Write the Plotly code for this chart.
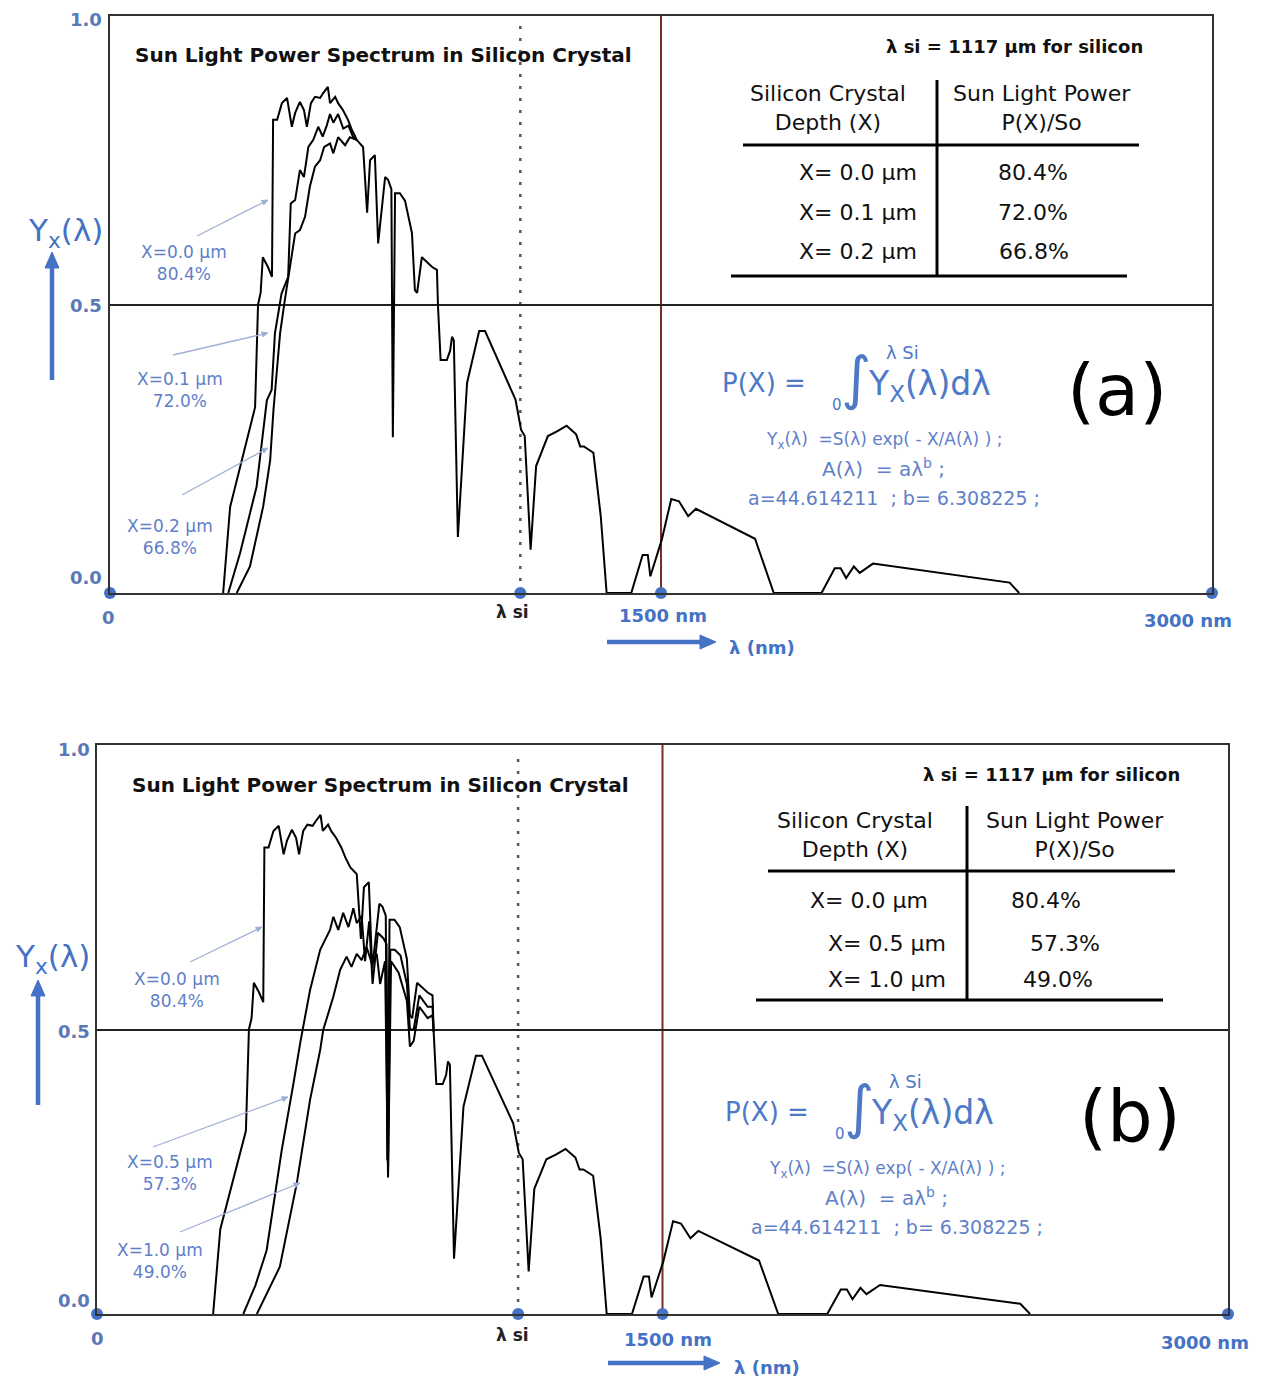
import math
import plotly.graph_objects as go

W, H = 1261, 1378
OFF = 8  # page body margin of the browser
LAMBDA_SI = 1117

# ---- Data ----
# Sun light spectrum at depth X = 0 (nm, relative power)
s_nm = [308, 327, 395, 403, 410, 416, 430, 441, 444, 455, 468, 482, 495, 504, 517, 528, 536, 547,
        558, 572, 580, 593, 599, 613, 621, 634, 648, 659, 672, 689, 700, 708, 721, 730, 749, 757,
        766, 770, 776, 789, 803, 822, 830, 836, 849, 858, 877, 890, 893, 900, 917, 926, 931, 936,
        947, 972, 1005, 1021, 1104, 1119, 1129, 1145, 1160, 1192, 1217, 1243, 1269, 1280, 1290,
        1316, 1336, 1352, 1419, 1450, 1464, 1471, 1502, 1528, 1549, 1574, 1595, 1756, 1807, 1937,
        1973, 1989, 2004, 2025, 2041, 2077, 2449, 2475]
s_y = [0.0, 0.149, 0.322, 0.50, 0.52, 0.582, 0.565, 0.548, 0.82, 0.82, 0.849, 0.858, 0.808, 0.832,
       0.851, 0.837, 0.808, 0.849, 0.86, 0.858, 0.866, 0.877, 0.849, 0.86, 0.849, 0.837, 0.82, 0.802,
       0.785, 0.773, 0.659, 0.75, 0.759, 0.606, 0.721, 0.716, 0.70, 0.27, 0.693, 0.693, 0.68, 0.624,
       0.525, 0.52, 0.582, 0.577, 0.565, 0.56, 0.496, 0.404, 0.404, 0.42, 0.444, 0.438, 0.097, 0.364,
       0.454, 0.454, 0.335, 0.283, 0.272, 0.075, 0.22, 0.272, 0.28, 0.29, 0.275, 0.254, 0.254, 0.243,
       0.133, 0.0, 0.0, 0.066, 0.066, 0.029, 0.092, 0.163, 0.159, 0.133, 0.146, 0.094, 0.0, 0.0,
       0.043, 0.043, 0.026, 0.046, 0.035, 0.051, 0.018, 0.0]

# Panel (a): X = 0.1 um and X = 0.2 um (until they merge with X = 0)
x01_nm = [322, 354, 399, 427, 440, 449, 467, 485, 492, 504, 517, 528, 540, 553, 567, 579, 590, 599,
          608, 621, 635, 649, 662, 672]
x01_y = [0.0, 0.069, 0.184, 0.334, 0.352, 0.45, 0.519, 0.548, 0.675, 0.681, 0.733, 0.721, 0.773,
         0.785, 0.808, 0.791, 0.81, 0.83, 0.815, 0.83, 0.805, 0.81, 0.79, 0.785]
x02_nm = [345, 381, 417, 436, 445, 463, 476, 490, 504, 517, 531, 544, 558, 572, 583, 599, 608, 621,
          640, 653, 672]
x02_y = [0.0, 0.046, 0.15, 0.23, 0.317, 0.45, 0.508, 0.566, 0.623, 0.629, 0.652, 0.704, 0.739, 0.75,
         0.773, 0.779, 0.762, 0.79, 0.776, 0.79, 0.785]

# Panel (b): X = 0.5 um and X = 1.0 um
x05_nm = [388, 420, 450, 490, 521, 540, 565, 592, 618, 627, 640, 653, 667, 680, 689, 702, 711, 722,
          731, 745, 760, 768, 772, 778, 790, 805, 822, 830, 840, 855, 877, 890, 893]
x05_y = [0.0, 0.05, 0.112, 0.288, 0.405, 0.48, 0.569, 0.64, 0.675, 0.698, 0.675, 0.705, 0.68, 0.713,
         0.687, 0.70, 0.62, 0.69, 0.58, 0.67, 0.66, 0.65, 0.25, 0.64, 0.64, 0.63, 0.58, 0.50, 0.50,
         0.56, 0.54, 0.54, 0.496]
x10_nm = [424, 485, 530, 565, 592, 600, 627, 645, 662, 675, 689, 702, 715, 729, 742, 751, 764, 772,
          780, 800, 822, 830, 840, 855, 877, 890, 893]
x10_y = [0.0, 0.083, 0.23, 0.376, 0.464, 0.499, 0.558, 0.605, 0.628, 0.61, 0.633, 0.622, 0.645, 0.616,
         0.633, 0.58, 0.62, 0.24, 0.62, 0.60, 0.55, 0.47, 0.48, 0.54, 0.52, 0.525, 0.496]

marker_x = [0, LAMBDA_SI, 1500, 3000]
marker_y = [0, 0, 0, 0]

depths_a = ["0.0", "0.1", "0.2"]
powers_a = ["80.4%", "72.0%", "66.8%"]
depths_b = ["0.0", "0.5", "1.0"]
powers_b = ["80.4%", "57.3%", "49.0%"]

a_coef = "44.614211"
b_coef = "6.308225"

# ---- Styling ----
BLUE = "#4472C4"
FBLUE = "#4d79c6"
LBLUE = "#5f80c8"
TBLUE = "#5a78b8"
FONT = "DejaVu Sans, Noto Sans"
NB = "\u00a0"


def PX(px):
    return (px - OFF) / W


def PY(py):
    return 1 - (py - OFF) / H


fig = go.Figure()

line_style = dict(color="black", width=2)
fig.add_trace(go.Scatter(x=s_nm, y=s_y, mode="lines", line=line_style, xaxis="x", yaxis="y"))
fig.add_trace(go.Scatter(x=x01_nm, y=x01_y, mode="lines", line=line_style, xaxis="x", yaxis="y"))
fig.add_trace(go.Scatter(x=x02_nm, y=x02_y, mode="lines", line=line_style, xaxis="x", yaxis="y"))
fig.add_trace(go.Scatter(x=s_nm, y=s_y, mode="lines", line=line_style, xaxis="x2", yaxis="y2"))
fig.add_trace(go.Scatter(x=x05_nm, y=x05_y, mode="lines", line=line_style, xaxis="x2", yaxis="y2"))
fig.add_trace(go.Scatter(x=x10_nm, y=x10_y, mode="lines", line=line_style, xaxis="x2", yaxis="y2"))
for xa, ya in (("x", "y"), ("x2", "y2")):
    fig.add_trace(go.Scatter(x=marker_x, y=marker_y, mode="markers", cliponaxis=False,
                             marker=dict(color=BLUE, size=12), xaxis=xa, yaxis=ya))

ax_common = dict(range=[0, 3000], showgrid=False, zeroline=False, showticklabels=False,
                 showline=True, mirror=True, linecolor="#333", linewidth=2, ticks="")
ay_common = dict(range=[0, 1], tickvals=[0.5], showgrid=True, gridcolor="#222", gridwidth=1.8,
                 zeroline=False, showticklabels=False, showline=True, mirror=True,
                 linecolor="#333", linewidth=2, ticks="")

fig.update_layout(
    width=W, height=H, margin=dict(l=0, r=0, t=0, b=0),
    paper_bgcolor="white", plot_bgcolor="white", showlegend=False,
    xaxis=dict(domain=[PX(110), PX(1212)], anchor="y", **ax_common),
    yaxis=dict(domain=[PY(593), PY(16)], anchor="x", **ay_common),
    xaxis2=dict(domain=[PX(97), PX(1228)], anchor="y2", **ax_common),
    yaxis2=dict(domain=[PY(1314), PY(745)], anchor="x2", **ay_common),
)

shapes = []
for xa, ya in (("x", "y"), ("x2", "y2")):
    shapes.append(dict(type="line", xref=xa, yref=ya, x0=1500, x1=1500, y0=0, y1=1,
                       line=dict(color="#7b2d26", width=2), layer="below"))
    shapes.append(dict(type="line", xref=xa, yref=ya, x0=LAMBDA_SI, x1=LAMBDA_SI, y0=0, y1=0.99,
                       line=dict(color="#555", width=2.5, dash="3px,9px"), layer="below"))

annotations = []


def txt(px, py, text, size, color="black", bold=False, xanchor="center", family=FONT):
    if bold:
        text = "<b>" + text + "</b>"
    annotations.append(dict(xref="paper", yref="paper", x=PX(px), y=PY(py), text=text,
                            showarrow=False, xanchor=xanchor, yanchor="middle",
                            font=dict(size=size, color=color, family=family)))


def arrow(tx, ty, hx, hy, color, width, hl, hw):
    d = math.hypot(hx - tx, hy - ty)
    ux, uy = (hx - tx) / d, (hy - ty) / d
    bx, by = hx - ux * hl, hy - uy * hl
    shapes.append(dict(type="line", xref="paper", yref="paper", x0=PX(tx), y0=PY(ty),
                       x1=PX(bx), y1=PY(by), line=dict(color=color, width=width)))
    px_, py_ = -uy, ux
    p1 = (bx + px_ * hw / 2, by + py_ * hw / 2)
    p2 = (bx - px_ * hw / 2, by - py_ * hw / 2)
    path = "M {:.5f},{:.5f} L {:.5f},{:.5f} L {:.5f},{:.5f} Z".format(
        PX(hx), PY(hy), PX(p1[0]), PY(p1[1]), PX(p2[0]), PY(p2[1]))
    shapes.append(dict(type="path", xref="paper", yref="paper", path=path,
                       fillcolor=color, line=dict(color=color, width=1)))


def hline(x0, x1, y):
    shapes.append(dict(type="line", xref="paper", yref="paper", x0=PX(x0), x1=PX(x1),
                       y0=PY(y), y1=PY(y), line=dict(color="black", width=3)))


def vline(x, y0, y1):
    shapes.append(dict(type="line", xref="paper", yref="paper", x0=PX(x), x1=PX(x),
                       y0=PY(y0), y1=PY(y1), line=dict(color="black", width=3)))


panels = [
    dict(ticks=[(86, 19, "1.0"), (86, 305, "0.5"), (86, 578, "0.0")],
         zero=(108, 617), lsi=(512, 612), n1500=(663, 616), n3000=(1188, 620),
         larrow=(607, 716, 642), lnm=(762, 647), yl=(65, 232), yarrow=(52, 380, 252),
         title=(383, 55), tag="(a)", tagpos=(1117, 390), fdx=0, fdy=0,
         depths=depths_a, powers=powers_a,
         labels=[(184, 263, (197, 236, 268, 200)), (180, 390, (173, 355, 268, 333)),
                 (170, 537, (182, 495, 268, 448))],
         tbl=dict(lsi=(1145, 47), h1=(828, 108), h2=(1042, 108), v=(937, 80, 276),
                  top=(743, 1139, 145), bot=(731, 1127, 276),
                  rows=[(919, 172, 1033), (919, 212, 1033), (919, 251, 1034)])),
    dict(ticks=[(74, 749, "1.0"), (74, 1031, "0.5"), (74, 1300, "0.0")],
         zero=(97, 1338), lsi=(512, 1335), n1500=(668, 1339), n3000=(1205, 1342),
         larrow=(608, 720, 1363), lnm=(767, 1367), yl=(52, 958), yarrow=(38, 1105, 980),
         title=(380, 785), tag="(b)", tagpos=(1130, 1116), fdx=3, fdy=729,
         depths=depths_b, powers=powers_b,
         labels=[(177, 990, (190, 962, 262, 927)), (170, 1173, (153, 1147, 288, 1097)),
                 (160, 1261, (180, 1232, 300, 1183))],
         tbl=dict(lsi=(1182, 774), h1=(855, 835), h2=(1075, 835), v=(967, 806, 1000),
                  top=(768, 1175, 871), bot=(756, 1163, 1000),
                  rows=[(930, 900, 1046), (948, 943, 1065), (948, 979, 1058)])),
]

for p in panels:
    for (x, y, t) in p["ticks"]:
        txt(x, y, t, 18, TBLUE, bold=True)
    txt(*p["zero"], "0", 18, TBLUE, bold=True)
    txt(*p["lsi"], "λ si", 17, "#222", bold=True)
    txt(*p["n1500"], "1500 nm", 18, BLUE, bold=True)
    txt(*p["n3000"], "3000 nm", 18, BLUE, bold=True)
    x0, x1, yy = p["larrow"]
    arrow(x0, yy, x1, yy, BLUE, 4.5, 16, 14)
    txt(*p["lnm"], "λ (nm)", 18, BLUE, bold=True)
    txt(*p["yl"], "Y<sub>x</sub>(λ)", 31, BLUE)
    ax_, t_, h_ = p["yarrow"]
    arrow(ax_, t_, ax_, h_, BLUE, 4.5, 16, 14)
    txt(*p["title"], "Sun Light Power Spectrum in Silicon Crystal", 20, "#111", bold=True)
    txt(*p["tagpos"], p["tag"], 72, "black")

    # depth labels with pointer lines
    for (lx, ly, (tx, ty, hx, hy)), d, pw in zip(p["labels"], p["depths"], p["powers"]):
        txt(lx, ly, "X=" + d + " μm<br>" + pw, 17, LBLUE)
        arrow(tx, ty, hx, hy, "#9fb0d6", 1.3, 6, 5)

    # table
    tb = p["tbl"]
    txt(tb["lsi"][0], tb["lsi"][1], "λ si = 1117 μm for silicon", 18, "#111", bold=True,
        xanchor="right")
    txt(*tb["h1"], "Silicon Crystal<br>Depth (X)", 22, "#111")
    txt(*tb["h2"], "Sun Light Power<br>P(X)/So", 22, "#111")
    vline(*tb["v"])
    hline(*tb["top"])
    hline(*tb["bot"])
    for (rx, ry, vx), d, pw in zip(tb["rows"], p["depths"], p["powers"]):
        txt(rx, ry, "X= " + d + " μm", 22, "#111", xanchor="right")
        txt(vx, ry, pw, 22, "#111")

    # formula
    dx, dy = p["fdx"], p["fdy"]
    txt(808 + dx, 383 + dy, "P(X) =", 26, FBLUE, xanchor="right")
    txt(837 + dx, 405 + dy, "0", 15, FBLUE)
    txt(856 + dx, 378 + dy, "∫", 58, FBLUE, family="DejaVu Sans")
    txt(884 + dx, 352 + dy, "λ Si", 18, FBLUE, xanchor="left")
    txt(866 + dx, 385 + dy, "Y<sub>X</sub>(λ)dλ", 33, FBLUE, xanchor="left")
    txt(884 + dx, 440 + dy, "Y<sub>x</sub>(λ)" + NB * 2 + "=S(λ) exp( - X/A(λ) ) ;", 17, LBLUE)
    txt(883 + dx, 468 + dy, "A(λ)" + NB * 2 + "= aλ<sup>b</sup> ;", 20, LBLUE)
    txt(894 + dx, 498 + dy, "a=" + a_coef + NB * 2 + "; b= " + b_coef + " ;", 19, LBLUE)

fig.update_layout(shapes=shapes, annotations=annotations)
fig.write_html("out.html")
